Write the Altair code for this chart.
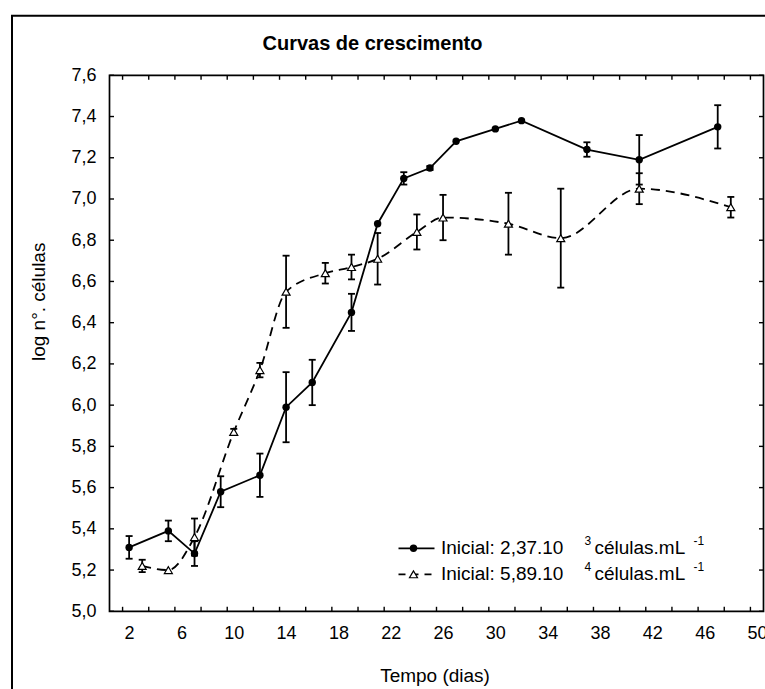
import altair as alt
import pandas as pd

FONT = "Liberation Sans, Arial, Helvetica, sans-serif"

# ---------------- data ----------------
dias_1 = [2, 5, 7, 9, 12, 14, 16, 19, 21, 23, 25, 27, 30, 32, 37, 41, 47]
log_1 = [5.31, 5.39, 5.28, 5.58, 5.66, 5.99, 6.11, 6.45, 6.88, 7.10, 7.15, 7.28, 7.34, 7.38, 7.24, 7.19, 7.35]
erro_1 = [0.055, 0.05, 0.06, 0.075, 0.105, 0.17, 0.11, 0.09, 0.0, 0.03, 0.01, 0.0, 0.0, 0.0, 0.035, 0.12, 0.105]

dias_2 = [3, 5, 7, 10, 12, 14, 17, 19, 21, 24, 26, 31, 35, 41, 48]
log_2 = [5.22, 5.20, 5.36, 5.87, 6.17, 6.55, 6.64, 6.67, 6.71, 6.84, 6.91, 6.88, 6.81, 7.05, 6.96]
erro_2 = [0.03, 0.0, 0.09, 0.015, 0.035, 0.175, 0.05, 0.06, 0.125, 0.085, 0.11, 0.15, 0.24, 0.075, 0.05]

x_labels = [2, 6, 10, 14, 18, 22, 26, 30, 34, 38, 42, 46, 50]
x_ticks = [1.5, 3.5, 5.5, 7.5, 9.5, 11.5, 13.5, 15.5, 17.5, 19.5, 21.5, 23.5, 25.5,
           27.5, 29.5, 31.5, 33.5, 35.5, 37.5, 39.5, 41.5, 43.5, 45.5, 47.5, 49.5]
y_ticks = [5.0, 5.2, 5.4, 5.6, 5.8, 6.0, 6.2, 6.4, 6.6, 6.8, 7.0, 7.2, 7.4, 7.6]

titulo = "Curvas de crescimento"
leg_1 = "Inicial: 2,37.10"
leg_2 = "Inicial: 5,89.10"
exp_1 = "3"
exp_2 = "4"
unid = "células.mL"
unid_exp = "-1"

# ---------------- frames ----------------
df1 = pd.DataFrame({"dia": dias_1, "log": log_1, "err": erro_1})
df1["lo"] = df1["log"] - df1["err"]
df1["hi"] = df1["log"] + df1["err"]
df2 = pd.DataFrame({"dia": dias_2, "log": log_2, "err": erro_2})
df2["lo"] = df2["log"] - df2["err"]
df2["hi"] = df2["log"] + df2["err"]
eb1 = df1[df1["err"] > 0]
eb2 = df2[df2["err"] > 0]

W, H = 654, 536
TL = 4.5  # inward tick length

xscale = alt.Scale(domain=[0.5, 50.5], nice=False, zero=False)
yscale = alt.Scale(domain=[5.0, 7.6], nice=False, zero=False)

xaxis = alt.Axis(values=x_labels, ticks=False, tickSize=0, domain=False, grid=False,
                 labelFontSize=18, labelPadding=13, labelColor="black", labelFont=FONT,
                 title="Tempo (dias)", titleFontSize=19, titleFontWeight="normal", titleFont=FONT,
                 titleColor="black", titleX=325, titleY=64, titleAlign="center",
                 titleBaseline="middle")
yaxis = alt.Axis(values=y_ticks, ticks=False, tickSize=0, domain=False, grid=False,
                 labelExpr="replace(format(datum.value, '.1f'), '.', ',')",
                 labelFontSize=18, labelPadding=13.5, labelColor="black", labelFont=FONT,
                 title="log n°. células", titleFontSize=19, titleFontWeight="normal", titleFont=FONT,
                 titleColor="black", titleX=-71.5, titleY=226, titleAngle=270,
                 titleAlign="center", titleBaseline="middle")


def X(field):
    return alt.X(field, type="quantitative", scale=xscale, axis=xaxis)


def Y(field):
    return alt.Y(field, type="quantitative", scale=yscale, axis=yaxis)


one = alt.Data(values=[{"a": 1}])

line1 = alt.Chart(df1).mark_line(color="black", strokeWidth=1.8).encode(
    x=X("dia"), y=Y("log"))
line2 = alt.Chart(df2).mark_line(color="black", strokeWidth=1.8, strokeDash=[9, 6],
                                 interpolate="monotone").encode(
    x=X("dia"), y=Y("log"))


def errbars(d):
    rule = alt.Chart(d).mark_rule(color="black", strokeWidth=1.8).encode(
        x=X("dia"), y=Y("lo"), y2="hi:Q")
    cap_lo = alt.Chart(d).mark_tick(color="black", orient="horizontal", size=7, thickness=1.8,
                                    opacity=1).encode(x=X("dia"), y=Y("lo"))
    cap_hi = alt.Chart(d).mark_tick(color="black", orient="horizontal", size=7, thickness=1.8,
                                    opacity=1).encode(x=X("dia"), y=Y("hi"))
    return [rule, cap_lo, cap_hi]


pts1 = alt.Chart(df1).mark_point(shape="circle", filled=True, color="black", size=55, opacity=1).encode(
    x=X("dia"), y=Y("log"))
pts2 = alt.Chart(df2).mark_point(shape="triangle-up", filled=True, fill="white", stroke="black",
                                 strokeWidth=1.2, size=64, opacity=1, fillOpacity=1).encode(
    x=X("dia"), y=Y("log"))

# inward tick marks on all four sides
xt = pd.DataFrame({"t": x_ticks})
yt = pd.DataFrame({"t": y_ticks})
tick_bot = alt.Chart(xt).mark_rule(color="black", strokeWidth=1.4).encode(
    x=X("t"), y=alt.value(H), y2=alt.value(H - TL))
tick_top = alt.Chart(xt).mark_rule(color="black", strokeWidth=1.4).encode(
    x=X("t"), y=alt.value(0), y2=alt.value(TL))
tick_left = alt.Chart(yt).mark_rule(color="black", strokeWidth=1.4).encode(
    y=Y("t"), x=alt.value(0), x2=alt.value(TL))
tick_right = alt.Chart(yt).mark_rule(color="black", strokeWidth=1.4).encode(
    y=Y("t"), x=alt.value(W), x2=alt.value(W - TL))

# outer border of the figure
border = alt.Chart(one).mark_rect(fill="white", fillOpacity=0, stroke="black", strokeWidth=2).encode(
    x=alt.value(-97.5), x2=alt.value(W + 60), y=alt.value(-59.6), y2=alt.value(H + 200))

title = alt.Chart(one).mark_text(text=titulo, font=FONT, fontSize=20, fontWeight="bold",
                                 align="center", baseline="middle", color="black").encode(
    x=alt.value(263), y=alt.value(-31))

# legend
LY1, LY2 = 473, 499
LX0, LX1, LXM = 289, 325, 304
TX = 331.5
leg_line1 = alt.Chart(one).mark_rule(color="black", strokeWidth=1.8).encode(
    x=alt.value(LX0), x2=alt.value(LX1), y=alt.value(LY1))
leg_pt1 = alt.Chart(one).mark_point(shape="circle", filled=True, color="black", size=55, opacity=1).encode(
    x=alt.value(LXM), y=alt.value(LY1))
leg_line2 = alt.Chart(one).mark_rule(color="black", strokeWidth=1.8, strokeDash=[7, 6]).encode(
    x=alt.value(LX0), x2=alt.value(LX1), y=alt.value(LY2))
leg_pt2 = alt.Chart(one).mark_point(shape="triangle-up", filled=True, fill="white", stroke="black",
                                    strokeWidth=1.2, size=64, opacity=1).encode(
    x=alt.value(LXM), y=alt.value(LY2))


def ltext(txt, x, y, size):
    return alt.Chart(one).mark_text(text=txt, font=FONT, fontSize=size, align="left",
                                    baseline="middle", color="black").encode(
        x=alt.value(x), y=alt.value(y))


legend = [
    leg_line1, leg_pt1, leg_line2, leg_pt2,
    ltext(leg_1, TX, LY1, 19), ltext(exp_1, 475, LY1 - 7, 12), ltext(unid, 485, LY1, 19),
    ltext(unid_exp, 584, LY1 - 7, 12),
    ltext(leg_2, TX, LY2, 19), ltext(exp_2, 475, LY2 - 7, 12), ltext(unid, 485, LY2, 19),
    ltext(unid_exp, 584, LY2 - 7, 12),
]

layers = [border, line1, line2] + errbars(eb1) + errbars(eb2) + [pts1, pts2,
          tick_bot, tick_top, tick_left, tick_right, title] + legend

chart = alt.layer(*layers).properties(
    width=W, height=H,
    autosize=alt.AutoSizeParams(type="none"),
    padding={"left": 109.5, "top": 75.3, "right": 1.5, "bottom": 78},
    background="white",
).configure(
    font=FONT,
).configure_view(
    stroke="black", strokeWidth=1.7,
)

chart.save("out.html", embed_options={"renderer": "svg", "actions": False})
